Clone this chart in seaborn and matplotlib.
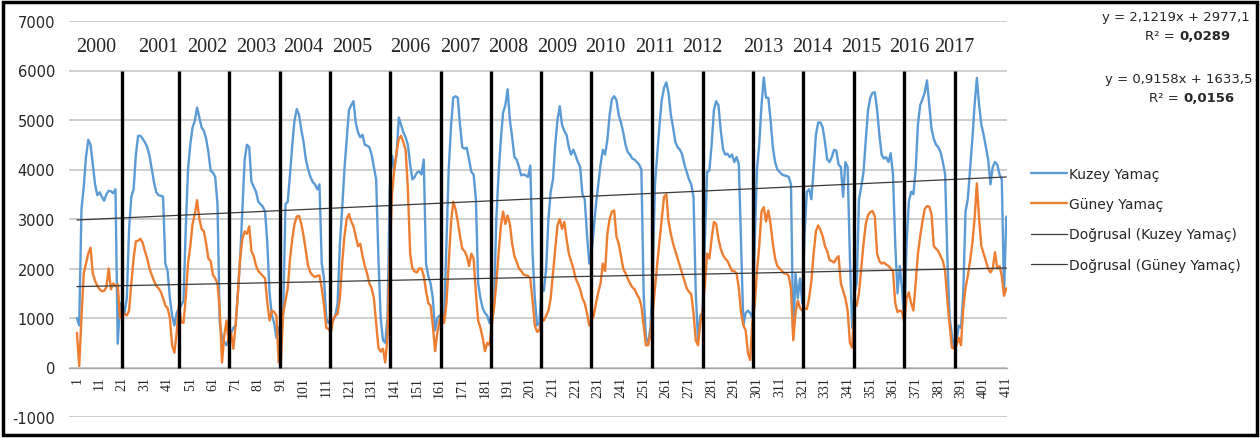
import pandas as pd
import seaborn as sns
import matplotlib.pyplot as plt
from matplotlib.ticker import MultipleLocator, FixedLocator
from matplotlib.lines import Line2D
from matplotlib.patches import Rectangle

# Kuzey Yamaç (mavi seri), 1..411
kuzey = [
    1000, 850, 3200, 3650, 4250, 4600, 4500, 4100, 3700, 3480, 3540, 3450, 3370, 3500, 3570, 3560, 3520, 3600, 480, 1300,  # 2000
    1300, 1100, 1400, 2800, 3450, 3600, 4300, 4680, 4680, 4620, 4550, 4450, 4280, 4010, 3740, 3540, 3480, 3470, 3450, 2100, 1950, 1400, 1050, 850, 1100,  # 2001
    1200, 1250, 1350, 2800, 4000, 4500, 4850, 4980, 5250, 5050, 4850, 4780, 4620, 4350, 3970, 3940, 3850, 3300, 900, 600, 520, 450,  # 2002
    600, 700, 800, 850, 1500, 2200, 3200, 4200, 4500, 4450, 3750, 3650, 3550, 3350, 3300, 3250, 3150, 2500, 1500, 1050, 900, 600, 800,  # 2003
    850, 1100, 3300, 3350, 3900, 4500, 5000, 5220, 5100, 4800, 4550, 4200, 4000, 3850, 3750, 3700, 3600, 3700, 2100, 1800, 1000, 900,  # 2004
    900, 950, 1050, 1300, 2500, 3200, 4000, 4600, 5200, 5300, 5380, 4950, 4750, 4650, 4700, 4500, 4480, 4450, 4300, 4050, 3800, 2200, 1000, 550, 500, 1000,  # 2005
    3600, 4280, 4000, 4300, 5050, 4900, 4750, 4650, 4500, 4100, 3800, 3850, 3940, 3960, 3900, 4200, 2100, 1850, 1700, 1400, 750, 1000,  # 2006
    1050, 1000, 1000, 2500, 4000, 4850, 5450, 5480, 5450, 4900, 4450, 4420, 4440, 4200, 3950, 3900, 3400, 1700, 1400, 1200, 1100, 1050, 900,  # 2007
    1100, 1250, 3000, 3900, 4600, 5150, 5300, 5620, 5000, 4650, 4250, 4200, 4050, 3880, 3900, 3880, 3850, 4080, 2300, 1400, 850, 900,  # 2008
    1600, 1550, 2000, 3000, 3550, 3800, 4500, 5000, 5280, 4900, 4780, 4700, 4450, 4300, 4400, 4280, 4150, 4050, 3500, 3400, 2700, 2100,  # 2009
    2300, 2800, 3300, 3700, 4100, 4400, 4300, 4600, 5100, 5420, 5480, 5400, 5100, 4950, 4750, 4500, 4350, 4300, 4220, 4200, 4150, 4100, 4000, 1500, 600, 500, 800,  # 2010
    1800, 3700, 4300, 4900, 5400, 5650, 5760, 5550, 5100, 4850, 4550, 4450, 4400, 4300, 4100, 3950, 3800, 3700, 3450, 1500, 550, 1050,  # 2011
    1100, 2500, 3950, 3980, 4500, 5200, 5380, 5300, 4800, 4420, 4300, 4320, 4250, 4300, 4150, 4250, 4100, 2500, 850, 1100, 1150, 1100,  # 2012
    1000, 2500, 4000, 4500, 5300, 5860, 5450, 5450, 5000, 4450, 4150, 4000, 3950, 3900, 3880, 3870, 3850, 3700, 600, 1900, 1400, 1800,  # 2013
    1300, 2700, 3550, 3600, 3400, 4000, 4700, 4950, 4950, 4850, 4550, 4200, 4150, 4250, 4400, 4380, 4100, 4050, 3450, 4150, 4050, 2200, 800,  # 2014
    1500, 1700, 3400, 3650, 3950, 4600, 5200, 5450, 5550, 5560, 5200, 4700, 4300, 4220, 4250, 4150, 4330, 3900, 2500, 1500, 2050, 1600,  # 2015
    900, 2500, 3350, 3550, 3500, 4000, 4900, 5300, 5420, 5550, 5800, 5300, 4820, 4620, 4500, 4450, 4350, 4150, 3900, 2200, 1000, 650, 400,  # 2016
    500, 850, 800, 1500, 3150, 3400, 4000, 4600, 5300, 5850, 5300, 4900, 4700, 4450, 4200, 3700, 4050, 4150, 4100, 3900, 3800, 1500, 3050,  # 2017
]

# Güney Yamaç (turuncu seri), 1..411
guney = [
    700, 30, 1000, 1900, 2100, 2300, 2420, 1900, 1750, 1650, 1580, 1540, 1550, 1620, 2000, 1580, 1700, 1640, 1680, 1000,  # 2000
    1100, 1080, 1050, 1150, 1700, 2200, 2550, 2560, 2600, 2520, 2350, 2200, 2000, 1870, 1750, 1650, 1600, 1530, 1400, 1250, 1200, 1000, 450, 300, 700,  # 2001
    1250, 920, 900, 1400, 2100, 2450, 2900, 3100, 3380, 3000, 2800, 2750, 2500, 2200, 2150, 1870, 1800, 1700, 1150, 100, 650, 950,  # 2002
    450, 700, 380, 850, 1500, 2200, 2600, 2750, 2700, 2850, 2350, 2250, 2060, 1950, 1900, 1850, 1800, 1300, 950, 1150, 1120, 1050, 100,  # 2003
    150, 1100, 1350, 1600, 2200, 2600, 2900, 3050, 3060, 2900, 2650, 2350, 2050, 1920, 1860, 1830, 1850, 1860, 1600, 1250, 800, 780,  # 2004
    700, 950, 1050, 1080, 1400, 2100, 2650, 3000, 3100, 2950, 2850, 2650, 2450, 2500, 2250, 2050, 1900, 1700, 1600, 1400, 900, 400, 320, 380, 100, 600,  # 2005
    2300, 3500, 4000, 4350, 4620, 4680, 4550, 4400, 3600, 2300, 2000, 1940, 1920, 2000, 2000, 1850, 1550, 1300, 1250, 850, 330, 700,  # 2006
    950, 1100, 900, 1300, 2100, 2900, 3350, 3200, 2950, 2650, 2400, 2350, 2250, 2050, 2300, 2200, 1500, 950, 800, 600, 330, 500, 450,  # 2007
    850, 1200, 1700, 2300, 2850, 3150, 2900, 3070, 2900, 2500, 2250, 2130, 2000, 1950, 1880, 1860, 1850, 1800, 1350, 850, 720, 750,  # 2008
    1000, 950, 1050, 1150, 1400, 1900, 2400, 2870, 3000, 2800, 2940, 2600, 2300, 2150, 2000, 1800, 1700, 1580, 1400, 1300, 1100, 850,  # 2009
    950, 1050, 1300, 1520, 1700, 2100, 1950, 2700, 3000, 3150, 3170, 2650, 2500, 2250, 2000, 1900, 1800, 1700, 1620, 1580, 1480, 1400, 1250, 850, 450, 450, 700,  # 2010
    1100, 1600, 2100, 2550, 3000, 3450, 3500, 2950, 2700, 2500, 2350, 2200, 2050, 1900, 1750, 1600, 1530, 1480, 1100, 550, 450, 900,  # 2011
    1150, 1650, 2300, 2200, 2600, 2940, 2900, 2600, 2400, 2270, 2200, 2150, 2050, 1950, 1950, 1900, 1600, 1100, 850, 750, 300, 150,  # 2012
    950, 1250, 1950, 2450, 3150, 3240, 2950, 3170, 2900, 2500, 2200, 2050, 2000, 1950, 1900, 1900, 1850, 1600, 550, 1100, 1350, 1200,  # 2013
    1150, 1200, 1180, 1400, 1750, 2300, 2750, 2870, 2780, 2650, 2450, 2350, 2170, 2150, 2120, 2200, 2250, 1700, 1550, 1400, 1150, 500, 400,  # 2014
    1250, 1250, 1500, 2000, 2500, 2900, 3080, 3140, 3160, 3050, 2300, 2150, 2100, 2120, 2080, 2050, 2000, 1950, 1300, 1120, 1150, 1130,  # 2015
    900, 1400, 1520, 1300, 1150, 1700, 2300, 2650, 2950, 3200, 3260, 3250, 3100, 2450, 2400, 2350, 2250, 2150, 1950, 1350, 850, 400, 380,  # 2016
    450, 600, 450, 1200, 1600, 1850, 2150, 2500, 3000, 3720, 3000, 2450, 2300, 2150, 2000, 1920, 2000, 2330, 2000, 2050, 1850, 1450, 1600,  # 2017
]

# yıl ayırıcı çizgiler (x konumu) ve yıl etiketleri
yil_cizgileri = [21.1, 46.0, 68.3, 90.6, 112.6, 139.3, 161.5, 183.8, 205.7, 228.0,
                 254.8, 277.0, 299.2, 321.4, 343.7, 365.9, 388.2]
yillar = ['2000', '2001', '2002', '2003', '2004', '2005', '2006', '2007', '2008',
          '2009', '2010', '2011', '2012', '2013', '2014', '2015', '2016', '2017']
yil_etiket_x = [9.4, 36.7, 58.7, 79.9, 101.0, 122.6, 148.1, 170.2, 191.3,
                212.9, 234.0, 256.1, 276.8, 303.6, 325.2, 346.8, 368.4, 388.2]

# doğrusal eğilim (Excel denklemleri)
egim_kuzey, kesisim_kuzey = 2.1219, 2977.1
egim_guney, kesisim_guney = 0.9158, 1633.5

mavi = '#5B9BD5'
turuncu = '#ED7D31'
trend_renk = '#3A3A3A'
yazi_renk = '#262626'

n = len(kuzey)
df = pd.DataFrame({
    'x': list(range(1, n + 1)) * 2,
    'deger': kuzey + guney,
    'seri': ['Kuzey Yamaç'] * n + ['Güney Yamaç'] * len(guney),
})

sns.set_style('white')
plt.rcParams['font.family'] = ['DejaVu Sans']
plt.rcParams['axes.unicode_minus'] = False

W, H = 1260, 439
fig = plt.figure(figsize=(W / 100, H / 100), dpi=100)
ax = fig.add_axes([69 / W, 1 - 418 / H, (1007 - 69) / W, (418 - 22) / H])

sns.lineplot(data=df, x='x', y='deger', hue='seri',
             palette={'Kuzey Yamaç': mavi, 'Güney Yamaç': turuncu},
             estimator=None, sort=False, lw=1.7, legend=False, ax=ax, zorder=3)

# trend çizgileri
xs = [1, n]
ax.plot(xs, [egim_kuzey * x + kesisim_kuzey for x in xs], color=trend_renk, lw=0.9, zorder=4)
ax.plot(xs, [egim_guney * x + kesisim_guney for x in xs], color=trend_renk, lw=0.9, zorder=4)

# yıl çizgileri ve etiketleri
ax.vlines(yil_cizgileri, 0, 6000, color='black', lw=2.4, zorder=5)
for xx, yl in zip(yil_etiket_x, yillar):
    ax.text(xx, 6480, yl, ha='center', va='center', fontsize=14.5,
            family='Liberation Serif', zorder=6)

ax.set_xlim(-2.5, 411.3)
ax.set_ylim(-1000, 7000)
ax.set_yticks(range(-1000, 7001, 1000))
ax.yaxis.grid(True, color='#C6C6C6', lw=1.2)
ax.set_axisbelow(True)

for s in ['top', 'right', 'left']:
    ax.spines[s].set_visible(False)
ax.spines['bottom'].set_position(('data', 0))
ax.spines['bottom'].set_color('#A6A6A6')
ax.spines['bottom'].set_linewidth(1.0)

ax.xaxis.set_major_locator(FixedLocator(list(range(1, n + 1, 10))))
ax.xaxis.set_minor_locator(MultipleLocator(1))
ax.tick_params(axis='x', which='both', length=3, width=0.7, color='#A6A6A6',
               direction='out', pad=3)
ax.tick_params(axis='y', length=0, pad=10, labelsize=10.5, labelcolor=yazi_renk)
plt.setp(ax.get_xticklabels(), rotation=90, fontsize=10, family='Liberation Serif')
ax.set_xlabel('')
ax.set_ylabel('')

# lejant
tutamak = [Line2D([], [], color=mavi, lw=1.7),
           Line2D([], [], color=turuncu, lw=1.7),
           Line2D([], [], color=trend_renk, lw=0.9),
           Line2D([], [], color=trend_renk, lw=0.9)]
etiket = ['Kuzey Yamaç', 'Güney Yamaç', 'Doğrusal (Kuzey Yamaç)', 'Doğrusal (Güney Yamaç)']
lej = fig.legend(tutamak, etiket, loc='upper left', bbox_to_anchor=(1031 / W, 1 - 168 / H),
                 frameon=False, fontsize=10, handlelength=2.6, handletextpad=0.15,
                 labelspacing=1.17, borderpad=0, borderaxespad=0)
for t in lej.get_texts():
    t.set_color(yazi_renk)

# denklemler
fig.text(1176 / W, 1 - 18 / H, 'y = 2,1219x + 2977,1', ha='center', va='center', fontsize=9.5, color=yazi_renk)
fig.text(1175 / W, 1 - 37 / H, 'R² =', ha='right', va='center', fontsize=9.5, color=yazi_renk)
fig.text(1179 / W, 1 - 37 / H, '0,0289', ha='left', va='center', fontsize=9.5, weight='bold', color=yazi_renk)
fig.text(1179 / W, 1 - 80 / H, 'y = 0,9158x + 1633,5', ha='center', va='center', fontsize=9.5, color=yazi_renk)
fig.text(1179 / W, 1 - 99 / H, 'R² =', ha='right', va='center', fontsize=9.5, color=yazi_renk)
fig.text(1183 / W, 1 - 99 / H, '0,0156', ha='left', va='center', fontsize=9.5, weight='bold', color=yazi_renk)

# dış çerçeve
fig.patches.append(Rectangle((3 / W, 3 / H), 1 - 6 / W, 1 - 6 / H, transform=fig.transFigure,
                             fill=False, edgecolor='black', lw=2.5))

fig.savefig('out.png', dpi=100)
